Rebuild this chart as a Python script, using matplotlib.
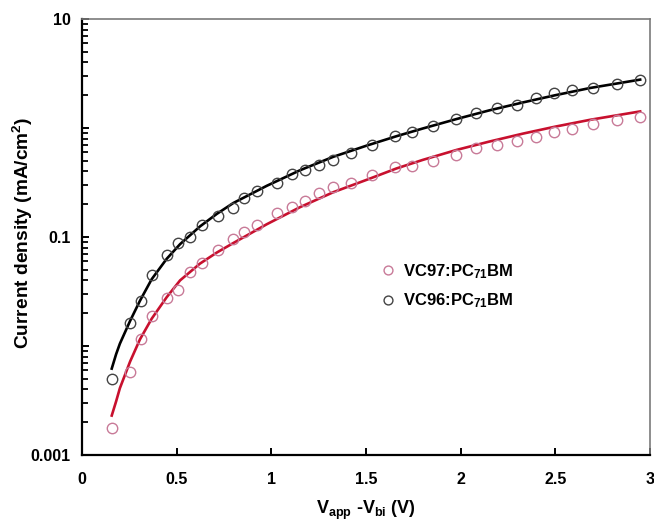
import matplotlib
matplotlib.use("Agg")
import matplotlib.pyplot as plt
from matplotlib.ticker import FixedLocator, FuncFormatter, NullFormatter

plt.rcParams['font.family'] = ['Liberation Sans', 'DejaVu Sans']
plt.rcParams['font.weight'] = 'bold'
plt.rcParams['mathtext.fontset'] = 'custom'
plt.rcParams['mathtext.rm'] = 'Liberation Sans:bold'
plt.rcParams['mathtext.it'] = 'Liberation Sans:bold'
plt.rcParams['mathtext.bf'] = 'Liberation Sans:bold'

# measured data (circles)
v_data = [0.157, 0.254, 0.31, 0.368, 0.45, 0.505, 0.571, 0.632, 0.72, 0.796, 0.855,
          0.923, 1.028, 1.111, 1.18, 1.252, 1.326, 1.422, 1.533, 1.655, 1.742, 1.854,
          1.973, 2.080, 2.191, 2.295, 2.397, 2.492, 2.586, 2.701, 2.825, 2.948]
j_vc96 = [0.0050, 0.0161, 0.026, 0.0448, 0.0684, 0.0887, 0.1007, 0.129, 0.156, 0.183, 0.226,
          0.266, 0.311, 0.379, 0.412, 0.458, 0.508, 0.586, 0.698, 0.85, 0.925, 1.035,
          1.22, 1.38, 1.52, 1.64, 1.89, 2.10, 2.22, 2.31, 2.52, 2.75]
j_vc97 = [0.00176, 0.0058, 0.0117, 0.019, 0.0277, 0.0327, 0.048, 0.0574, 0.076, 0.0953, 0.110,
          0.129, 0.165, 0.187, 0.215, 0.252, 0.289, 0.315, 0.371, 0.44, 0.452, 0.50,
          0.56, 0.65, 0.70, 0.76, 0.827, 0.91, 0.97, 1.10, 1.18, 1.27]

# fitted curves
v_fit = [0.157, 0.18, 0.20, 0.254, 0.306, 0.368, 0.447, 0.518, 0.623, 0.712, 0.799,
         0.976, 1.152, 1.328, 1.504, 1.66, 1.80, 1.979, 2.15, 2.331, 2.50, 2.684, 2.948]
fit_vc96 = [0.0062, 0.0084, 0.0105, 0.0170, 0.0260, 0.041, 0.063, 0.086, 0.125, 0.163, 0.205,
            0.295, 0.41, 0.545, 0.69, 0.84, 0.99, 1.21, 1.45, 1.72, 2.00, 2.33, 2.78]
fit_vc97 = [0.0023, 0.0031, 0.0041, 0.0072, 0.0115, 0.0178, 0.028, 0.040, 0.057, 0.072, 0.088,
            0.131, 0.188, 0.258, 0.335, 0.425, 0.51, 0.63, 0.75, 0.89, 1.03, 1.19, 1.42]

labels = ['VC97:PC$_{71}$BM', 'VC96:PC$_{71}$BM']
xticks = [0, 0.5, 1, 1.5, 2, 2.5, 3]
xticklabels = ['0', '0.5', '1', '1.5', '2', '2.5', '3']
ydecades = [0.001, 0.01, 0.1, 1, 10]
ylabeled = [10, 0.1, 0.001]

fig = plt.figure(figsize=(6.54, 5.24), dpi=100)
ax = fig.add_axes([0.1254, 0.1317, 0.8685, 0.832])

ax.plot(v_fit, fit_vc96, color='black', lw=1.9, zorder=2)
ax.plot(v_fit, fit_vc97, color='#c8102e', lw=1.9, zorder=2)
ax.plot(v_data, j_vc97, linestyle='none', marker='o', ms=7.5, mfc='none',
        mec='#c87a98', mew=1.0, label=labels[0], zorder=3)
ax.plot(v_data, j_vc96, linestyle='none', marker='o', ms=7.5, mfc='none',
        mec='#444444', mew=1.0, label=labels[1], zorder=3)

ax.set_yscale('log')
ax.set_xlim(0, 3)
ax.set_ylim(0.001, 10)
ax.xaxis.set_major_locator(FixedLocator(xticks))
ax.set_xticklabels(xticklabels)
minor_pos = [d * k for d in ydecades[:-1] for k in range(2, 10)]
ax.yaxis.set_major_locator(FixedLocator(ydecades))
ax.yaxis.set_minor_locator(FixedLocator(minor_pos))
ax.yaxis.set_minor_formatter(NullFormatter())
ax.yaxis.set_major_formatter(FuncFormatter(
    lambda v, p: ('%g' % v) if any(abs(v - t) / t < 1e-6 for t in ylabeled) else ''))

ax.tick_params(axis='both', which='major', direction='in', length=5, width=1.4,
               labelsize=11.5, pad=8)
ax.tick_params(axis='y', which='minor', direction='in', length=4, width=1.3,
               left=True, right=False, color='black')
ax.tick_params(axis='x', which='major', pad=12)
for lab in ax.get_xticklabels() + ax.get_yticklabels():
    lab.set_fontweight('bold')

for s in ['left', 'bottom']:
    ax.spines[s].set_linewidth(1.6)
    ax.spines[s].set_color('black')
for s in ['top', 'right']:
    ax.spines[s].set_linewidth(1.2)
    ax.spines[s].set_color('#7a7a7a')

ax.set_ylabel('Current density (mA/cm$^{2}$)', fontsize=13.8, fontweight='bold')
ax.yaxis.set_label_coords(-0.083, 0.51)
ax.set_xlabel('V$_{app}$ -V$_{bi}$ (V)', fontsize=13, fontweight='bold')
ax.xaxis.set_label_coords(0.5, -0.10)

leg = ax.legend(loc='upper left', bbox_to_anchor=(0.5, 0.477), frameon=False,
                handlelength=0.8, handletextpad=0.5, labelspacing=0.65,
                markerscale=0.85, prop={'weight': 'bold', 'size': 12})

fig.savefig('out.png', dpi=100)
